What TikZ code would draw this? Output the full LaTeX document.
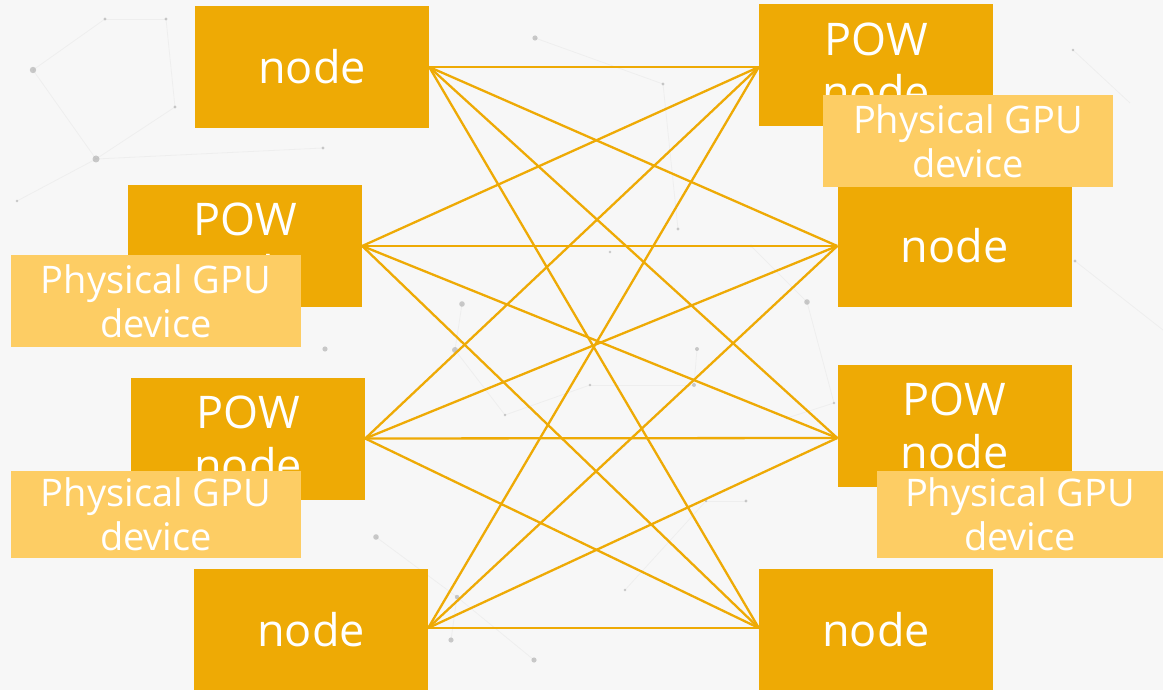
\documentclass[tikz,border=0pt]{standalone}
\usepackage{fontspec}
\setmainfont{Open Sans}
\definecolor{bgpaper}{HTML}{F7F7F7}
\definecolor{amber}{HTML}{EEAA05}
\definecolor{amberlight}{HTML}{FDCD64}
\definecolor{netdot}{HTML}{9A9A9A}
\tikzset{
  box/.style={fill=amber, text=white, minimum width=234pt, minimum height=122pt,
    inner sep=0pt, align=center, font=\fontsize{45}{53}\selectfont},
  gpubox/.style={fill=amberlight, text=white, minimum width=290pt, minimum height=92pt,
    inner sep=0pt, align=center, font=\fontsize{38}{44}\selectfont},
  link/.style={draw=amber, line width=2.3pt},
  netline/.style={draw=netdot, opacity=0.09, line width=0.8pt},
  netdotstyle/.style={fill=netdot, opacity=0.5},
}
\begin{document}
\begin{tikzpicture}[x=1pt,y=-1pt]
  \clip (0,0) rectangle (1163,690);
  \fill[bgpaper] (0,0) rectangle (1163,690);

  % faint network texture in the background
  \foreach \a/\b/\c/\d in {33/70/96/159, 96/159/175/107, 105/19/166/19, 33/70/105/19,
      96/159/17/201, 166/19/175/107, 462/304/455/350, 455/350/505/415, 505/415/590/385,
      590/385/694/385, 694/385/697/349, 751/246/807/302, 807/302/834/403, 787/418/834/403,
      376/537/457/597, 457/597/534/660, 451/640/457/597, 625/590/706/501, 706/501/746/501,
      535/38/663/84, 663/84/678/229, 1073/50/1130/103, 1075/261/1163/330, 96/159/323/148}
    \path[netline] (\a,\b) -- (\c,\d);
  \foreach \a/\b/\r in {33/70/3.2, 96/159/3.5, 105/19/1.6, 166/19/1.6, 175/107/1.6,
      17/201/1.4, 323/148/1.6, 325/349/2.6, 535/38/2.6, 663/84/1.6, 678/229/1.6,
      462/304/2.8, 455/350/3, 610/252/1.4, 751/246/1.4, 807/302/2.8, 697/349/2,
      694/385/2, 590/385/1.4, 505/415/1.4, 787/418/1.4, 834/403/1.4, 376/537/2.8,
      457/597/2.2, 451/640/2.6, 534/660/2.6, 625/590/1.4, 746/501/1.6, 706/501/1.4,
      1075/261/1.6, 1073/50/1.4}
    \fill[netdotstyle] (\a,\b) circle (\r pt);

  % left column
  \node[box] (L1) at (312,67) {node};
  \node[box] (L2) at (245,246) {POW\\node};
  \node[box] (L3) at (248,438.5) {POW\\node};
  \node[box] (L4) at (311,629.5) {node};
  % right column
  \node[box] (R1) at (876,65.5) {POW\\node};
  \node[box] (R2) at (954.5,246) {node};
  \node[box] (R3) at (954.5,426) {POW\\node};
  \node[box] (R4) at (876,629.5) {node};

  % attachment points of the links
  \coordinate (L1p) at (L1.east);
  \coordinate (L2p) at (L2.east);
  \coordinate (L3p) at (L3.east);
  \coordinate (L4p) at ([yshift=1.5pt]L4.east);
  \coordinate (R1p) at ([yshift=-1.5pt]R1.west);
  \coordinate (R2p) at (R2.west);
  \coordinate (R3p) at ([yshift=-12pt]R3.west);
  \coordinate (R4p) at ([yshift=1.5pt]R4.west);

  % GPU device labels laid over their POW nodes
  \node[gpubox] (G2) at (156,301) {Physical GPU\\device};
  \node[gpubox, minimum height=87pt] (G3) at (156,514.5) {Physical GPU\\device};
  \node[gpubox] (G1) at (968,141) {Physical GPU\\device};
  \node[gpubox, minimum width=286pt, minimum height=87pt] (G4) at (1020,514.5) {Physical GPU\\device};

  % full mesh between the two columns
  \foreach \l in {L1p,L2p,L3p,L4p}
    \foreach \r in {R1p,R2p,R3p,R4p}
      \draw[link] (\l) -- (\r);
\end{tikzpicture}
\end{document}
